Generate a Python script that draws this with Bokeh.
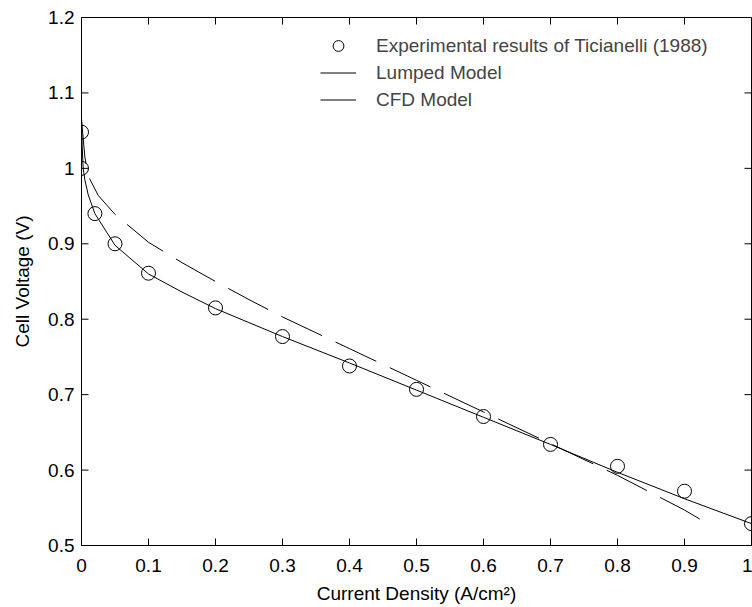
import math
from bokeh.plotting import figure
from bokeh.models import Range1d, FixedTicker, Legend, LegendItem
from bokeh.embed import file_html
from bokeh.resources import INLINE

# ---- data ----
exp_x = [0, 0, 0.02, 0.05, 0.1, 0.2, 0.3, 0.4, 0.5, 0.6, 0.7, 0.8, 0.9, 1.0]
exp_y = [1.048, 1.0, 0.94, 0.90, 0.861, 0.815, 0.777, 0.738, 0.707, 0.671, 0.634, 0.605, 0.572, 0.529]

lumped_x = [0, 0.005, 0.01, 0.025, 0.05, 0.1, 0.15, 0.2, 0.25, 0.3, 0.4, 0.5, 0.6, 0.7, 0.8, 0.9, 0.94]
lumped_y = [1.065, 1.015, 0.99, 0.964, 0.939, 0.902, 0.875, 0.850, 0.826, 0.803, 0.761, 0.719, 0.677, 0.635, 0.593, 0.547, 0.526]

cfd_x = [0, 0.001, 0.0025, 0.005, 0.01, 0.02, 0.05, 0.1, 0.15, 0.2, 0.3, 0.4, 0.5, 0.6, 0.7, 0.8, 0.9, 1.0]
cfd_y = [1.068, 1.03, 1.0, 0.985, 0.965, 0.940, 0.898, 0.860, 0.836, 0.814, 0.777, 0.742, 0.706, 0.670, 0.634, 0.597, 0.562, 0.529]

x_ticks = [0, 0.1, 0.2, 0.3, 0.4, 0.5, 0.6, 0.7, 0.8, 0.9, 1.0]
x_tick_labels = ["0", "0.1", "0.2", "0.3", "0.4", "0.5", "0.6", "0.7", "0.8", "0.9", "1"]
y_ticks = [0.5, 0.6, 0.7, 0.8, 0.9, 1.0, 1.1, 1.2]
y_tick_labels = ["0.5", "0.6", "0.7", "0.8", "0.9", "1", "1.1", "1.2"]

legend_labels = ["Experimental results of Ticianelli (1988)", "Lumped Model", "CFD Model"]
x_label = "Current Density (A/cm\u00b2)"
y_label = "Cell Voltage (V)"

FONT = "Liberation Sans"
FS = "19px"

W, H = 752, 607
BL, BR, BT, BB = 81, 1, 17, 62

x0, x1 = x_ticks[0], x_ticks[-1]
y0, y1 = y_ticks[0], y_ticks[-1]

p = figure(width=W, height=H, x_range=Range1d(x0, x1), y_range=Range1d(y0, y1),
           output_backend="svg", toolbar_location=None,
           min_border_left=BL, min_border_right=BR, min_border_top=BT, min_border_bottom=BB,
           x_axis_label=x_label, y_axis_label=y_label)
p.grid.visible = False
p.outline_line_color = "black"
p.outline_line_width = 1
p.background_fill_color = "white"
p.border_fill_color = "white"

def style_axis(ax, ticks, labels):
    ax.ticker = FixedTicker(ticks=ticks)
    ax.major_label_overrides = {t: l for t, l in zip(ticks, labels)}
    ax.major_tick_in = 0
    ax.major_tick_out = 0
    ax.minor_tick_line_color = None
    ax.axis_line_color = "black"
    ax.major_label_text_font = FONT
    ax.major_label_text_font_size = FS
    ax.major_label_text_color = "black"
    ax.axis_label_text_font = FONT
    ax.axis_label_text_font_size = FS
    ax.axis_label_text_font_style = "normal"
    ax.axis_label_text_color = "black"

style_axis(p.xaxis[0], x_ticks, x_tick_labels)
style_axis(p.yaxis[0], y_ticks, y_tick_labels)
p.xaxis[0].major_label_standoff = 13
p.xaxis[0].axis_label_standoff = 8
p.yaxis[0].major_label_standoff = 7
p.yaxis[0].axis_label_standoff = 12

# inward ticks on all four sides as screen-length rays, 7 px long
TICK_PX = 7
nx, ny = len(x_ticks), len(y_ticks)
tick_kw = dict(line_color="black", line_width=1, length=TICK_PX, length_units="screen")
p.ray(x=x_ticks, y=[y0] * nx, angle=math.pi / 2, **tick_kw)
p.ray(x=x_ticks, y=[y1] * nx, angle=-math.pi / 2, **tick_kw)
p.ray(x=[x0] * ny, y=y_ticks, angle=0, **tick_kw)
p.ray(x=[x1] * ny, y=y_ticks, angle=math.pi, **tick_kw)

r_lump = p.line(lumped_x, lumped_y, line_color="black", line_width=1, line_dash="45 15")
r_cfd = p.line(cfd_x, cfd_y, line_color="black", line_width=1)
r_exp = p.scatter(exp_x, exp_y, marker="circle", size=14, fill_color=None,
                  line_color="black", line_width=1)

legend = Legend(items=[LegendItem(label=legend_labels[0], renderers=[r_exp]),
                       LegendItem(label=legend_labels[1], renderers=[r_lump]),
                       LegendItem(label=legend_labels[2], renderers=[r_cfd])],
                location=(239, 432), border_line_color=None, background_fill_alpha=0,
                padding=0, margin=0, spacing=0, glyph_width=36, glyph_height=27,
                label_height=27, label_standoff=20,
                label_text_font=FONT, label_text_font_size=FS)
p.add_layout(legend)

open("out.html", "w").write(file_html(p, INLINE))
